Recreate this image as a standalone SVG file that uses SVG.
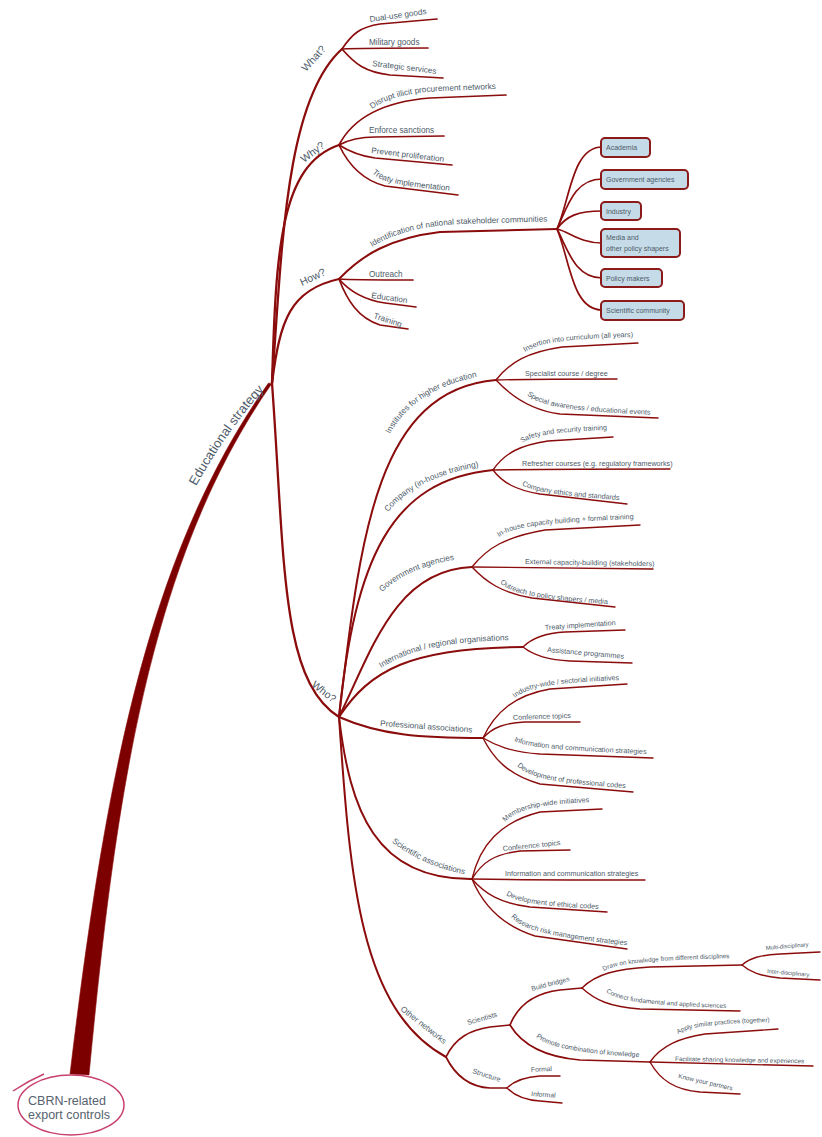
<svg xmlns="http://www.w3.org/2000/svg" width="822" height="1137" viewBox="0 0 822 1137">
<style>
.ln{fill:none;stroke:#8b0c0c;stroke-linecap:round}
.w1{stroke-width:2.3}
.w2{stroke-width:2}
.w3{stroke-width:1.7}
.w4{stroke-width:1.4}
.trunk{fill:#7d0000;stroke:#8b0c0c;stroke-width:0.6}
text{font-family:"Liberation Sans",Arial,sans-serif;fill:#4d5b69}
.l1{font-size:13px}
.l2{font-size:10.5px}
.l3{font-size:8.2px}
.l4{font-size:7.2px}
.l5{font-size:6.8px}
.l6{font-size:6.4px}
.l7{font-size:5.8px}
.bx{font-size:7px}
.box{fill:#c6dbe8;stroke:#8b1a1a;stroke-width:2}
.root{fill:none;stroke:#c8406e;stroke-width:1.5}
.rt{font-size:12.5px;fill:#56626e}
</style>
<defs>
<path id="tp-edu" d="M196,486 C210,461 236,420 264,390 L290,362"/>
<path id="tp-disrupt" d="M372,109 C385,99 407,93 440,91 L520,88"/>
<path id="tp-treaty1" d="M372,173 C380,181 395,186 452,191 L470,192"/>
<path id="tp-ident" d="M372,247 C393,234 420,226 460,224 L560,221"/>
<path id="tp-inst" d="M390,434 C403,410 428,385 487,375 L510,372"/>
<path id="tp-comp" d="M388,512 C405,490 440,472 484,466 L510,464"/>
<path id="tp-gov" d="M382,592 C400,575 430,562 462,559 L490,558"/>
<path id="tp-intl" d="M381,668 C410,650 440,642 513,640 L540,640"/>
<path id="tp-sci" d="M392,842 C402,850 425,866 463,874 L490,878"/>
<path id="tp-insert" d="M525,352 C538,344 556,339 632,337 L660,336"/>
<path id="tp-special" d="M527,395 C540,405 560,411 657,415 L680,416"/>
<path id="tp-safety" d="M522,443 C533,436 550,432 606,430 L630,429"/>
<path id="tp-cethics" d="M522,485 C532,491 550,495 620,500 L640,501"/>
<path id="tp-inhouse" d="M499,537 C512,528 532,523 632,519 L660,518"/>
<path id="tp-outpol" d="M500,583 C512,593 530,599 607,604 L630,605"/>
<path id="tp-indwide" d="M515,698 C526,688 546,683 620,680 L640,679"/>
<path id="tp-infop" d="M514,741 C525,746 545,750 646,754 L670,755"/>
<path id="tp-devprof" d="M517,766 C528,776 545,783 626,788 L650,789"/>
<path id="tp-member" d="M505,822 C517,810 537,804 594,802 L620,801"/>
<path id="tp-devethic" d="M506,895 C518,902 535,906 600,909 L620,910"/>
<path id="tp-research" d="M511,917 C522,929 545,937 625,945 L650,947"/>
<path id="tp-promote" d="M536,1037 C548,1046 570,1053 638,1057 L660,1058"/>
<path id="tp-draw" d="M604,971 C614,965 632,961 733,958 L760,957"/>
<path id="tp-connect" d="M606,992 C618,1000 635,1005 729,1008 L750,1009"/>
<path id="tp-apply" d="M678,1034 C688,1028 702,1024 771,1022 L790,1021"/>
</defs>

<g id="connectors">
<path class="trunk" d="M70,1074 C103,800 143,559 268.5,383 L271.5,384 C148,561 115,801 89,1075 Z"/>
<path class="ln w1" d="M272,383 C282,250 285,100 342,49"/>
<path class="ln w1" d="M272,383 C276,250 280,165 339,145"/>
<path class="ln w1" d="M272,383 C280,320 290,290 339,279"/>
<path class="ln w1" d="M272,383 C285,560 280,680 339,717"/>
<path class="ln w3" d="M342,49 C352,34 360,27 380,24 L437,19"/>
<path class="ln w3" d="M342,49 C360,48 380,48 428,48"/>
<path class="ln w3" d="M342,49 C355,64 365,72 390,75 L443,78"/>
<path class="ln w3" d="M339,145 C352,120 380,102 430,98 L506,95"/>
<path class="ln w3" d="M339,145 C350,139 360,137 375,137 L444,136"/>
<path class="ln w3" d="M339,145 C350,152 360,156 375,158 L452,165"/>
<path class="ln w3" d="M339,145 C348,164 362,180 385,186 L458,195"/>
<path class="ln w2" d="M339,279 C362,255 390,238 440,232 L557,229"/>
<path class="ln w3" d="M339,279 C350,280 360,280 413,280"/>
<path class="ln w3" d="M339,279 C350,292 365,300 385,303 L416,307"/>
<path class="ln w3" d="M339,279 C347,300 358,318 380,325 L408,329"/>
<path class="ln w3" d="M557,229 C570,200 572,147 602,147"/>
<path class="ln w3" d="M557,229 C568,205 575,179 602,179"/>
<path class="ln w3" d="M557,229 C566,216 578,211 602,211"/>
<path class="ln w3" d="M557,229 C570,232 580,243 602,243"/>
<path class="ln w3" d="M557,229 C568,250 575,278 602,278"/>
<path class="ln w3" d="M557,229 C570,260 572,310 602,310"/>
<path class="ln w2" d="M339,717 C360,540 375,390 496,380"/>
<path class="ln w2" d="M339,717 C355,560 390,480 493,470"/>
<path class="ln w2" d="M339,717 C372,650 395,570 472,567"/>
<path class="ln w2" d="M339,717 C370,670 410,648 523,647"/>
<path class="ln w2" d="M339,717 C380,735 420,738 483,738"/>
<path class="ln w2" d="M339,717 C350,810 375,880 472,879"/>
<path class="ln w2" d="M339,717 C350,880 360,1010 446,1057"/>
<path class="ln w4" d="M496,380 C510,362 528,352 562,347 L638,343"/>
<path class="ln w4" d="M496,380 C530,379 570,379 617,379"/>
<path class="ln w4" d="M496,380 C510,395 530,410 560,414 L658,418"/>
<path class="ln w4" d="M493,470 C505,452 522,445 548,441 L613,437"/>
<path class="ln w4" d="M493,470 C560,469 620,469 670,469"/>
<path class="ln w4" d="M493,470 C502,482 515,490 540,494 L627,504"/>
<path class="ln w4" d="M472,567 C487,548 505,537 545,530 L640,525"/>
<path class="ln w4" d="M472,567 C540,568 600,568 653,569"/>
<path class="ln w4" d="M472,567 C486,582 502,593 532,598 L615,607"/>
<path class="ln w4" d="M523,647 C532,638 545,633 565,632 L625,630"/>
<path class="ln w4" d="M523,647 C533,655 548,660 570,661 L632,663"/>
<path class="ln w4" d="M483,738 C495,712 515,695 550,689 L627,684"/>
<path class="ln w4" d="M483,738 C493,727 505,723 525,722 L580,722"/>
<path class="ln w4" d="M483,738 C495,745 510,752 540,754 L653,758"/>
<path class="ln w4" d="M483,738 C493,758 508,775 540,784 L633,792"/>
<path class="ln w4" d="M472,879 C480,845 500,822 540,812 L602,809"/>
<path class="ln w4" d="M472,879 C482,862 495,854 520,851 L570,850"/>
<path class="ln w4" d="M472,879 C540,880 600,880 645,880"/>
<path class="ln w4" d="M472,879 C485,894 500,903 530,907 L607,912"/>
<path class="ln w4" d="M472,879 C482,903 500,925 535,936 L627,949"/>
<path class="ln w3" d="M446,1057 C455,1038 470,1030 490,1027 L510,1025"/>
<path class="ln w3" d="M446,1057 C455,1075 470,1087 490,1088 L507,1088"/>
<path class="ln w3" d="M510,1025 C518,1005 535,993 560,990 L582,988"/>
<path class="ln w3" d="M510,1025 C522,1045 545,1057 580,1060 L650,1062"/>
<path class="ln w4" d="M582,988 C596,974 616,969 650,967 L742,965"/>
<path class="ln w4" d="M582,988 C595,1000 610,1007 640,1009 L740,1011"/>
<path class="ln w4" d="M742,965 C750,958 760,955 780,954 L820,952"/>
<path class="ln w4" d="M742,965 C750,972 760,976 780,978 L820,980"/>
<path class="ln w4" d="M650,1062 C662,1045 680,1038 705,1034 L778,1029"/>
<path class="ln w4" d="M650,1062 C700,1063 760,1065 813,1066"/>
<path class="ln w4" d="M650,1062 C660,1080 675,1090 700,1092 L740,1094"/>
<path class="ln w4" d="M507,1088 C515,1080 525,1077 540,1076 L560,1076"/>
<path class="ln w4" d="M507,1088 C515,1096 525,1100 540,1101 L562,1103"/>
</g>

<g id="root">
<ellipse class="root" cx="71" cy="1105" rx="53" ry="30"/>
<path class="root" d="M13,1091 Q28,1081 44,1074"/>
<text class="rt" x="67" y="1105" text-anchor="middle">CBRN-related</text>
<text class="rt" x="69" y="1119" text-anchor="middle">export controls</text>
</g>
<g id="n-edu"><text class="l1"><textPath href="#tp-edu">Educational strategy</textPath></text></g>

<g id="n-what"><text class="l2" transform="translate(306,72) rotate(-48)">What?</text></g>
<g id="n-why"><text class="l2" transform="translate(304,163) rotate(-37)">Why?</text></g>
<g id="n-how"><text class="l2" transform="translate(302,286) rotate(-25)">How?</text></g>
<g id="n-who"><text class="l2" transform="translate(311,686) rotate(38)">Who?</text></g>

<g id="n-dualuse"><text class="l3" transform="translate(370,22) rotate(-8)">Dual-use goods</text></g>
<g id="n-military"><text class="l3" x="369" y="45">Military goods</text></g>
<g id="n-strategic"><text class="l3" transform="translate(372,66) rotate(7)">Strategic services</text></g>

<g id="n-disrupt"><text class="l3"><textPath href="#tp-disrupt">Disrupt illicit procurement networks</textPath></text></g>
<g id="n-enforce"><text class="l3" x="369" y="133">Enforce sanctions</text></g>
<g id="n-prevent"><text class="l3" transform="translate(371,153) rotate(7)">Prevent proliferation</text></g>
<g id="n-treaty1"><text class="l3"><textPath href="#tp-treaty1">Treaty implementation</textPath></text></g>

<g id="n-ident"><text class="l3"><textPath href="#tp-ident">Identification of national stakeholder communities</textPath></text></g>
<g id="n-outreach"><text class="l3" x="369" y="277">Outreach</text></g>
<g id="n-education"><text class="l3" transform="translate(371,298) rotate(8)">Education</text></g>
<g id="n-training"><text class="l3" transform="translate(373,318) rotate(18)">Training</text></g>

<g id="n-academia"><rect class="box" x="601" y="138" width="49" height="19" rx="4"/><text class="bx" x="606" y="150">Academia</text></g>
<g id="n-govag"><rect class="box" x="601" y="170" width="87" height="19" rx="4"/><text class="bx" x="606" y="182">Government agencies</text></g>
<g id="n-industry"><rect class="box" x="601" y="202" width="40" height="18" rx="4"/><text class="bx" x="606" y="214">Industry</text></g>
<g id="n-media"><rect class="box" x="601" y="229" width="79" height="28" rx="4"/><text class="bx" x="606" y="240">Media and</text><text class="bx" x="606" y="251">other policy shapers</text></g>
<g id="n-policy"><rect class="box" x="601" y="269" width="61" height="18" rx="4"/><text class="bx" x="606" y="281">Policy makers</text></g>
<g id="n-scicomm"><rect class="box" x="601" y="301" width="83" height="19" rx="4"/><text class="bx" x="606" y="313">Scientific community</text></g>

<g id="n-inst"><text class="l3"><textPath href="#tp-inst">Institutes for higher education</textPath></text></g>
<g id="n-insert"><text class="l4"><textPath href="#tp-insert">Insertion into curriculum (all years)</textPath></text></g>
<g id="n-specialist"><text class="l4" x="525" y="376">Specialist course / degree</text></g>
<g id="n-special"><text class="l4"><textPath href="#tp-special">Special awareness / educational events</textPath></text></g>

<g id="n-company"><text class="l3"><textPath href="#tp-comp">Company (in-house training)</textPath></text></g>
<g id="n-safety"><text class="l4"><textPath href="#tp-safety">Safety and security training</textPath></text></g>
<g id="n-refresher"><text class="l4" x="522" y="466">Refresher courses (e.g. regulatory frameworks)</text></g>
<g id="n-cethics"><text class="l4"><textPath href="#tp-cethics">Company ethics and standards</textPath></text></g>

<g id="n-gov"><text class="l3"><textPath href="#tp-gov">Government agencies</textPath></text></g>
<g id="n-inhouse"><text class="l4"><textPath href="#tp-inhouse">In-house capacity building + formal training</textPath></text></g>
<g id="n-external"><text class="l4" transform="translate(525,564) rotate(1)">External capacity-building (stakeholders)</text></g>
<g id="n-outpol"><text class="l4"><textPath href="#tp-outpol">Outreach to policy shapers / media</textPath></text></g>

<g id="n-intl"><text class="l3"><textPath href="#tp-intl">International / regional organisations</textPath></text></g>
<g id="n-treaty2"><text class="l4" transform="translate(545,630) rotate(-4)">Treaty implementation</text></g>
<g id="n-assist"><text class="l4" transform="translate(547,652) rotate(5)">Assistance programmes</text></g>

<g id="n-prof"><text class="l3" transform="translate(380,726) rotate(4)">Professional associations</text></g>
<g id="n-indwide"><text class="l4"><textPath href="#tp-indwide">Industry-wide / sectorial initiatives</textPath></text></g>
<g id="n-conf1"><text class="l4" transform="translate(513,720) rotate(-2)">Conference topics</text></g>
<g id="n-info1"><text class="l4"><textPath href="#tp-infop">Information and communication strategies</textPath></text></g>
<g id="n-devprof"><text class="l4"><textPath href="#tp-devprof">Development of professional codes</textPath></text></g>

<g id="n-sci"><text class="l3"><textPath href="#tp-sci">Scientific associations</textPath></text></g>
<g id="n-member"><text class="l4"><textPath href="#tp-member">Membership-wide initiatives</textPath></text></g>
<g id="n-conf2"><text class="l4" transform="translate(503,851) rotate(-6)">Conference topics</text></g>
<g id="n-info2"><text class="l4" x="505" y="876">Information and communication strategies</text></g>
<g id="n-devethic"><text class="l4"><textPath href="#tp-devethic">Development of ethical codes</textPath></text></g>
<g id="n-research"><text class="l4"><textPath href="#tp-research">Research risk management strategies</textPath></text></g>

<g id="n-other"><text class="l3" transform="translate(400,1010) rotate(38)">Other networks</text></g>
<g id="n-scientists"><text class="l4" transform="translate(468,1025) rotate(-16)">Scientists</text></g>
<g id="n-structure"><text class="l4" transform="translate(472,1073) rotate(18)">Structure</text></g>
<g id="n-bridges"><text class="l5" transform="translate(532,991) rotate(-15)">Build bridges</text></g>
<g id="n-promote"><text class="l5"><textPath href="#tp-promote">Promote combination of knowledge</textPath></text></g>
<g id="n-draw"><text class="l6"><textPath href="#tp-draw">Draw on knowledge from different disciplines</textPath></text></g>
<g id="n-connect"><text class="l6"><textPath href="#tp-connect">Connect fundamental and applied sciences</textPath></text></g>
<g id="n-multi"><text class="l7" transform="translate(766,950) rotate(-5)">Multi-disciplinary</text></g>
<g id="n-inter"><text class="l7" transform="translate(767,973) rotate(5)">Inter-disciplinary</text></g>
<g id="n-apply"><text class="l6"><textPath href="#tp-apply">Apply similar practices (together)</textPath></text></g>
<g id="n-facilitate"><text class="l6" transform="translate(675,1061) rotate(1)">Facilitate sharing knowledge and experiences</text></g>
<g id="n-know"><text class="l6" transform="translate(678,1078) rotate(13)">Know your partners</text></g>
<g id="n-formal"><text class="l5" transform="translate(531,1072) rotate(-3)">Formal</text></g>
<g id="n-informal"><text class="l5" transform="translate(531,1096) rotate(4)">Informal</text></g>
</svg>
